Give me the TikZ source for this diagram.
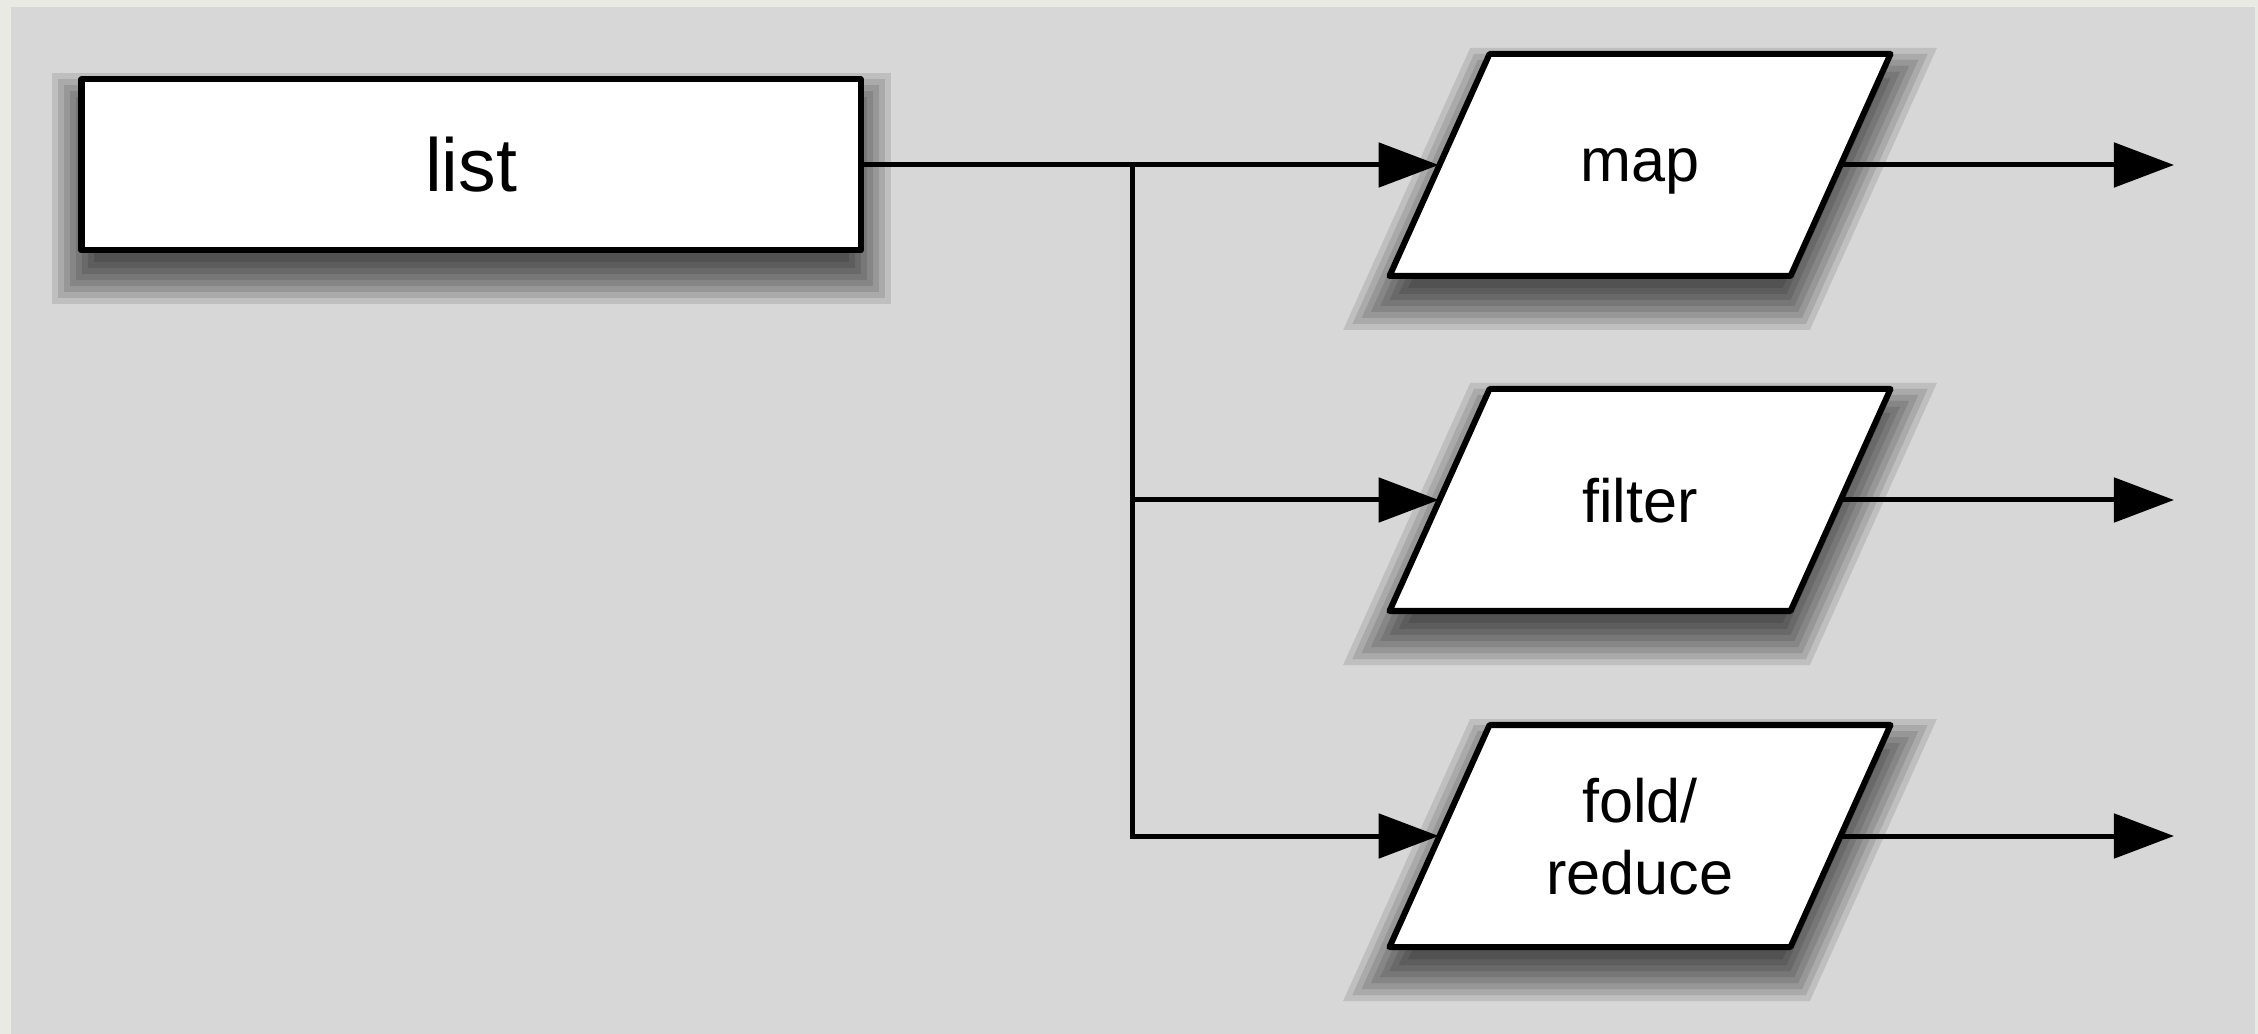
\documentclass[tikz,border=0pt]{standalone}
\usepackage{fontspec}
\setmainfont{Liberation Sans}
\usetikzlibrary{arrows.meta}

\tikzset{
  outline/.style={draw=black, fill=white, line width=0.06cm, line join=round},
  % body of the source box; its shadow and outline are drawn separately
  srcbox/.style={rectangle, minimum width=7.79cm, minimum height=1.71cm,
      inner sep=0pt, font=\fontsize{21.4pt}{25pt}\selectfont},
  % body of a slanted box: its west/east anchors sit on the slanted sides
  opbox/.style={rectangle, minimum width=4.01cm, minimum height=2.22cm,
      inner sep=0pt, align=center, text depth=0pt,
      font=\fontsize{17.4pt}{20.5pt}\selectfont},
  conn/.style={line width=0.05cm, draw=black},
  flow/.style={conn, -{Triangle[length=0.6cm, width=0.44cm]}},
  shadowcoat/.style={fill=black, fill opacity=0.11},
}

% parallelogram (401 wide, 222 high, slant 100) around centre #1,
% grown outwards by #3 and moved down by #2
\newcommand\slantpath[3]{%
  ([shift={({-250.5-1.5465*(#3)}, {111+(#3)+#2})}]#1)
  -- ([shift={({150.5+0.6455*(#3)}, {111+(#3)+#2})}]#1)
  -- ([shift={({250.5+1.5465*(#3)}, {-111-(#3)+#2})}]#1)
  -- ([shift={({-150.5-0.6455*(#3)}, {-111-(#3)+#2})}]#1) -- cycle}
% rectangle (779 wide, 171 high) around centre #1, grown by #3, moved down by #2
\newcommand\rectpath[3]{%
  ([shift={({-389.5-(#3)}, {-85.5-(#3)+#2})}]#1)
  rectangle ([shift={({389.5+(#3)}, {85.5+(#3)+#2})}]#1)}

% soft drop shadow: translucent coats of ever larger copies of the outline
\newcommand\softshadow[2]{%
  \foreach \g in {-12,-6,0,6,12,18,24,30}{%
    \path[shadowcoat] #1{#2}{24}{\g};}}

\newcommand\slantbox[1]{%
  \softshadow{\slantpath}{#1}
  \path[outline] \slantpath{#1}{0}{0};}
\newcommand\rectbox[1]{%
  \softshadow{\rectpath}{#1}
  \path[outline] \rectpath{#1}{0}{0};}

\begin{document}
\begin{tikzpicture}[x=0.01cm, y=-0.01cm]
  % canvas and panel
  \useasboundingbox (0,0) rectangle (2258,1034);
  \fill[color={rgb,255:red,234;green,234;blue,229}] (0,0) rectangle (2258,1034);
  \fill[color={rgb,255:red,215;green,215;blue,215}] (11,7) rectangle (2255,1034);

  % box outlines with their shadows
  \coordinate (clist) at (471,165);
  \coordinate (cmap) at (1640,165);
  \coordinate (cfilter) at (1640,500);
  \coordinate (cfold) at (1640,836);
  \rectbox{clist}
  \slantbox{cmap}
  \slantbox{cfilter}
  \slantbox{cfold}

  % source and operations
  \node[srcbox] (list) at (clist) {list};
  \node[opbox] (map) at (cmap) {map};
  \node[opbox] (filter) at (cfilter) {filter};
  \node[opbox] (fold) at (cfold) {fold/\\reduce};

  % fan-out from the list
  \coordinate (split) at (1132,165);
  \draw[flow] (list.east) -- (map.west);
  \draw[flow] (split) |- (filter.west);
  \draw[flow] (split) |- (fold.west);

  % results of each operation
  \coordinate (outmap) at (2174,165);
  \coordinate (outfilter) at (2174,500);
  \coordinate (outfold) at (2174,836);
  \draw[flow] (map.east) -- (outmap);
  \draw[flow] (filter.east) -- (outfilter);
  \draw[flow] (fold.east) -- (outfold);
\end{tikzpicture}
\end{document}
